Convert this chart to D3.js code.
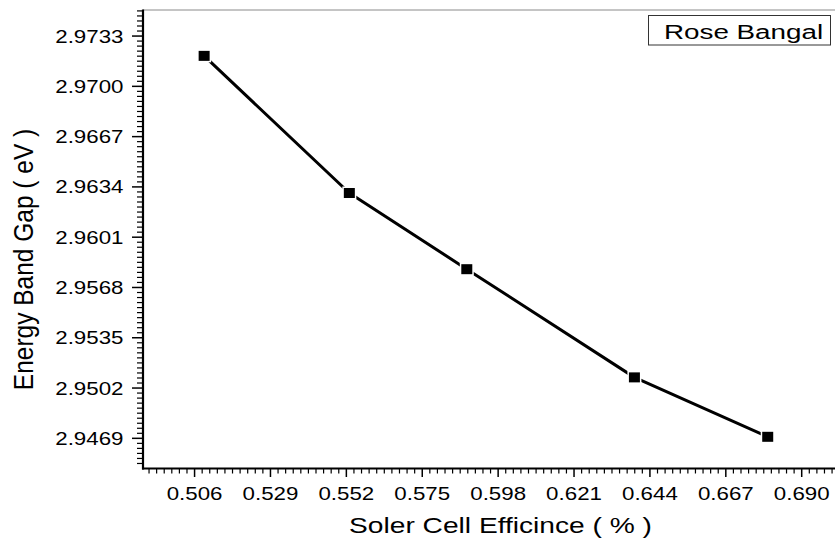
<!DOCTYPE html>
<html>
<head>
<meta charset="utf-8">
<script src="https://cdn.jsdelivr.net/npm/d3@7"></script>
<style>
  html, body { margin: 0; padding: 0; background: #fff; }
  svg { display: block; }
  text { font-family: "Liberation Sans", Arial, sans-serif; fill: #000; }
</style>
</head>
<body>
<svg id="chart" width="835" height="542"></svg>
<script>
// Solar cell efficiency vs. energy band gap for the Rose Bengal dye
const efficiency = [0.5089, 0.5529, 0.5885, 0.6393, 0.6797];
const bandGap    = [2.9720, 2.9630, 2.9580, 2.9509, 2.9470];
const seriesName = "Rose Bangal";

const xTickLabels = ["0.506", "0.529", "0.552", "0.575", "0.598", "0.621", "0.644", "0.667", "0.690"];
const yTickLabels = ["2.9469", "2.9502", "2.9535", "2.9568", "2.9601", "2.9634", "2.9667", "2.9700", "2.9733"];
const xTitle = "Soler Cell Efficince ( % )";
const yTitle = "Energy Band Gap ( eV )";

const plotLeft = 143, plotRight = 835, plotTop = 10, plotBottom = 468.5;

const x = d3.scaleLinear().domain([0.49037, 0.70009]).range([plotLeft, plotRight]);
const y = d3.scaleLinear().domain([2.94492, 2.97501]).range([plotBottom, plotTop]);

const svg = d3.select("#chart");

// Minor ticks: ten divisions per major step
const xMajor = xTickLabels.map(Number);
const yMajor = yTickLabels.map(Number);
const xStep = (xMajor[1] - xMajor[0]) / 10;
const yStep = (yMajor[1] - yMajor[0]) / 10;
const isMajor = (v, base, step) => {
  const k = Math.round((v - base) / step);
  return ((k % 10) + 10) % 10 === 0;
};
const xMinor = d3.range(-40, 120).map(i => xMajor[0] + i * xStep)
  .filter(v => v >= x.domain()[0] && v <= x.domain()[1] && !isMajor(v, xMajor[0], xStep));
const yMinor = d3.range(-40, 120).map(i => yMajor[0] + i * yStep)
  .filter(v => v >= y.domain()[0] && v <= y.domain()[1] && !isMajor(v, yMajor[0], yStep));

// Minor x ticks
svg.append("g").selectAll("line").data(xMinor).join("line")
  .attr("x1", d => x(d)).attr("x2", d => x(d))
  .attr("y1", plotBottom).attr("y2", plotBottom + 5)
  .attr("stroke", "#000").attr("stroke-width", 1.2);
// Major x ticks
svg.append("g").selectAll("line").data(xMajor).join("line")
  .attr("x1", d => x(d)).attr("x2", d => x(d))
  .attr("y1", plotBottom).attr("y2", plotBottom + 8.5)
  .attr("stroke", "#000").attr("stroke-width", 1.5);
// Minor y ticks
svg.append("g").selectAll("line").data(yMinor).join("line")
  .attr("y1", d => y(d)).attr("y2", d => y(d))
  .attr("x1", plotLeft - 6).attr("x2", plotLeft)
  .attr("stroke", "#000").attr("stroke-width", 1.2);
// Major y ticks
svg.append("g").selectAll("line").data(yMajor).join("line")
  .attr("y1", d => y(d)).attr("y2", d => y(d))
  .attr("x1", plotLeft - 11).attr("x2", plotLeft)
  .attr("stroke", "#000").attr("stroke-width", 1.5);

// Frame: grey top edge, black left and bottom axes
svg.append("line").attr("x1", plotLeft).attr("x2", plotRight).attr("y1", plotTop).attr("y2", plotTop)
  .attr("stroke", "#8a8a8a").attr("stroke-width", 1);
svg.append("line").attr("x1", plotLeft).attr("x2", plotLeft).attr("y1", plotTop - 0.5).attr("y2", plotBottom + 1)
  .attr("stroke", "#000").attr("stroke-width", 2.2);
svg.append("line").attr("x1", plotLeft - 1).attr("x2", plotRight).attr("y1", plotBottom).attr("y2", plotBottom)
  .attr("stroke", "#000").attr("stroke-width", 2.2);

// Tick labels (horizontally widened glyphs)
const tickSx = 1.24;
svg.append("g").selectAll("text").data(xTickLabels).join("text")
  .attr("transform", d => `translate(${x(+d)},499.5) scale(${tickSx},1)`)
  .attr("text-anchor", "middle")
  .attr("font-size", 18)
  .text(d => d);
svg.append("g").selectAll("text").data(yTickLabels).join("text")
  .attr("transform", d => `translate(123.5,${y(+d) + 6.5}) scale(${tickSx},1)`)
  .attr("text-anchor", "end")
  .attr("font-size", 18)
  .text(d => d);

// Axis titles
svg.append("text")
  .attr("transform", `translate(500.5,533) scale(1.28,1)`)
  .attr("text-anchor", "middle")
  .attr("font-size", 22)
  .text(xTitle);
svg.append("text")
  .attr("transform", `translate(33,259.5) scale(1.15,1) rotate(-90)`)
  .attr("text-anchor", "middle")
  .attr("font-size", 24.5)
  .text(yTitle);

// Data line
const pts = efficiency.map((e, i) => [e, bandGap[i]]);
svg.append("path")
  .datum(pts)
  .attr("fill", "none")
  .attr("stroke", "#000")
  .attr("stroke-width", 3)
  .attr("stroke-linejoin", "round")
  .attr("d", d3.line().x(d => x(d[0])).y(d => y(d[1])));

// Square markers with a thin white halo
svg.append("g").selectAll("rect").data(pts).join("rect")
  .attr("x", d => x(d[0]) - 5.5)
  .attr("y", d => y(d[1]) - 5)
  .attr("width", 11).attr("height", 10)
  .attr("fill", "#000")
  .attr("stroke", "#fff").attr("stroke-width", 3)
  .style("paint-order", "stroke");

// Legend box
svg.append("rect")
  .attr("x", 648.5).attr("y", 15.5).attr("width", 182).attr("height", 29.5)
  .attr("fill", "#fff").attr("stroke", "#333").attr("stroke-width", 1);
svg.append("text")
  .attr("transform", `translate(664,38.5) scale(1.39,1)`)
  .attr("font-size", 20)
  .text(seriesName);
</script>
</body>
</html>
